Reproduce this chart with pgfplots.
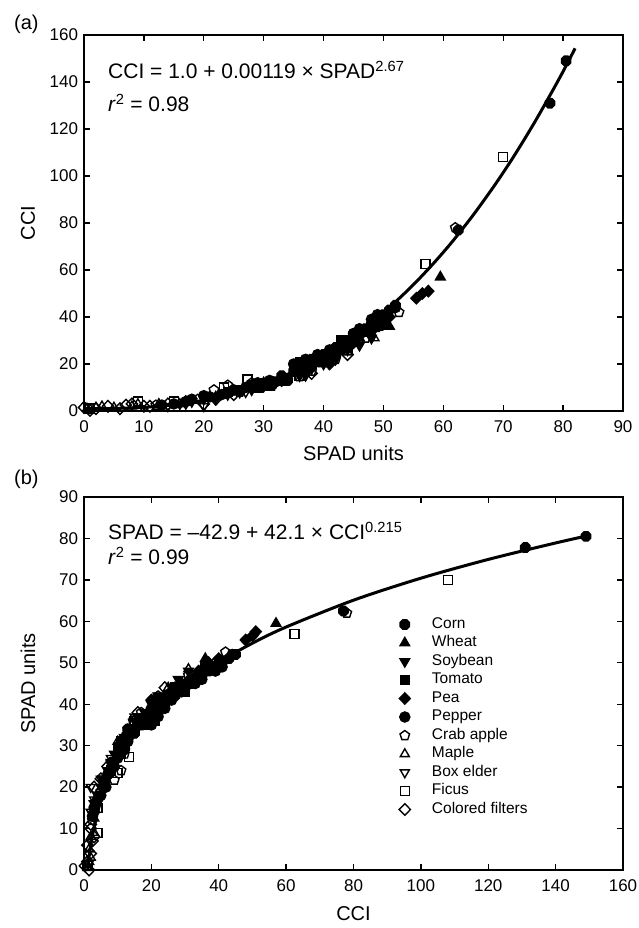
\documentclass[border=0pt]{standalone}
\usepackage{pgfplots}
\pgfplotsset{compat=1.18}
\usepackage{pgfplotstable}
\usepackage{fontspec}
\setmainfont{Liberation Sans}
\usetikzlibrary{plotmarks}

\pgfdeclareplotmark{octagon*}{%
 \pgfpathmoveto{\pgfqpointpolar{22.5}{\pgfplotmarksize}}%
 \pgfpathlineto{\pgfqpointpolar{67.5}{\pgfplotmarksize}}%
 \pgfpathlineto{\pgfqpointpolar{112.5}{\pgfplotmarksize}}%
 \pgfpathlineto{\pgfqpointpolar{157.5}{\pgfplotmarksize}}%
 \pgfpathlineto{\pgfqpointpolar{202.5}{\pgfplotmarksize}}%
 \pgfpathlineto{\pgfqpointpolar{247.5}{\pgfplotmarksize}}%
 \pgfpathlineto{\pgfqpointpolar{292.5}{\pgfplotmarksize}}%
 \pgfpathlineto{\pgfqpointpolar{337.5}{\pgfplotmarksize}}%
 \pgfpathclose\pgfusepathqfillstroke}

% columns: s = SPAD units, c = CCI
\pgfplotstableread{
s c
30 11
32 12.5
33 15
34 13
35 17
36 20
37 19
38 22
39 21
40 24
41 23
42 27
43 26
44 30
45 31
46 33
47 35
48 37
49 40
50 41
51 43
52 45
62.5 77
77.8 131
80.5 149
}\corn
\pgfplotstableread{
s c
22 6
25 8
28 10
30 12
33 14
35 16
36 19
37 18
39 21
41 24
43 28
45 30
46 31
47 33
48.5 35
50 37
51 36
59.5 57
}\wheat
\pgfplotstableread{
s c
16 3
18 4
20 5
22 5.5
24 7
26 8
28 9
30 10.5
32 12
34 13.5
36 15
37 16
38 18
40 20
42 22
44 26
46 28
48 31
}\soybean
\pgfplotstableread{
s c
24 8
26 9
28 11
29 10
30 12
31 11
33 13
35 18
36 21
38 20
39 23
40 22
42 25
43 30
45 32
47 34
49 36
}\tomato
\pgfplotstableread{
s c
36 17
38 19
40 22
41 20
42 26
44 27
45 29
46 32
48 34
50 37
51 40
55.5 48
56.5 50
57.5 51
}\pea
\pgfplotstableread{
s c
13 2.5
15 3
17 4
18 5
20 6.5
21 6
23 7
25 9
27 10
29 12
31 13
33 14
35 20
37 22
39 24
41 26
43 29
45 33
46 35
48 39
49 41
50 40
52 44
}\pepper
\pgfplotstableread{
s c
12 2.5
19 5
21.7 9
24 11
26 8
28 12
34 13
36 14.6
38 17
42 22
47 31
52.6 42
62 78
}\crab
\pgfplotstableread{
s c
0.5 1
2 1.5
3 2
5 1.5
8 2
9 3
12.5 3
16 3
31 10
36 16
40 20
44 25
48.5 31
}\maple
\pgfplotstableread{
s c
14 2
17 3
20 2
22 5
27 8
32 12
37 15
42 22
46 28
}\boxelder
\pgfplotstableread{
s c
1 1
9 4
15 4
23.4 10
27.3 13.4
30 12
36 15
44 27
57 62.5
70 108
}\ficus
\pgfplotstableread{
s c
0 1.5
1 0.3
2 1
4 2
6 1
7 2.5
8 3
10 2
11 2
14 3
17 4
20 3
22 5
25 7
29 11
33 13
38 16
44 24
50 39
}\filters
% fitted curves
\pgfplotstableread{
s c
0 1
5 1.09
10 1.56
15 2.64
20 4.55
25 7.43
30 11.46
35 16.78
40 23.55
45 31.88
50 41.90
52 46.41
54 51.24
56 56.36
58 61.80
60 67.56
62 73.64
65 83.43
68 94.0
70 101.47
72 109.3
75 121.8
78 135.2
80 144.5
82 154.3
}\fita
\pgfplotstableread{
c s
1.1 0.07
1.5 3.03
2 5.97
3 10.42
4 13.82
5 16.60
7 21.07
10 26.17
15 32.46
20 37.27
30 44.57
40 50.16
50 54.73
60 58.63
80 65.10
100 70.41
120 74.94
140 78.91
150 80.74
}\fitb

\pgfplotsset{
 myaxis/.style={
  scale only axis, clip=false,
  axis line style={line width=1.3pt},
  every tick/.style={line width=1.3pt, black},
  major tick length=6pt, tick align=inside,
  minor tick num=0,
  ticklabel style={font=\fontsize{17}{20}\selectfont},
  xticklabel style={yshift=-6pt},
  yticklabel style={xshift=-2.5pt},
  /pgf/number format/assume math mode=true,
  every axis y label/.style={at={(axis description cs:-0.104,0.5)}, rotate=90, anchor=center, font=\fontsize{20}{24}\selectfont},
 },
 mk/.style={only marks, black, mark options={line width=1.1pt}},
 corn/.style={mk, mark=octagon*, mark size=5.2pt},
 wheat/.style={mk, mark=triangle*, mark size=5.8pt},
 soybean/.style={mk, mark=triangle*, mark size=5.8pt, mark options={rotate=180, line width=1.1pt}},
 tomato/.style={mk, mark=square*, mark size=4.5pt},
 pea/.style={mk, mark=diamond*, mark size=5.8pt, mark options={xscale=1.3, line width=1.1pt}},
 pepper/.style={mk, mark=*, mark size=5.2pt},
 crab/.style={mk, mark=pentagon, mark size=5pt, mark options={fill=white, line width=1.4pt}},
 maple/.style={mk, mark=triangle, mark size=5.2pt, mark options={fill=white, line width=1.4pt}},
 boxelder/.style={mk, mark=triangle, mark size=5.2pt, mark options={rotate=180, fill=white, line width=1.4pt}},
 ficus/.style={mk, mark=square, mark size=4.5pt, mark options={fill=white, line width=1.4pt}},
 filters/.style={mk, mark=diamond, mark size=5.8pt, mark options={xscale=1.3, fill=white, line width=1.4pt}},
 fitline/.style={black, line width=3pt, smooth, no markers},
}

\begin{document}
\begin{tikzpicture}[x=1pt,y=1pt]
\useasboundingbox (0,0) rectangle (638,-928);

% ---------- panel (a)
\begin{axis}[myaxis,
  at={(84pt,-35pt)}, anchor=north west,
  width=539pt, height=376pt,
  xmin=0, xmax=90, ymin=0, ymax=160,
  xtick={0,10,...,90}, ytick={0,20,...,160},
  every axis x label/.style={at={(axis description cs:0.5,0)}, anchor=center, yshift=-42pt, font=\fontsize{20}{24}\selectfont},
  xlabel={SPAD units}, ylabel={CCI},
]
\addplot[fitline] table[x=s,y=c]{\fita};
\addplot[filters] table[x=s,y=c]{\filters};
\addplot[ficus] table[x=s,y=c]{\ficus};
\addplot[boxelder] table[x=s,y=c]{\boxelder};
\addplot[maple] table[x=s,y=c]{\maple};
\addplot[crab] table[x=s,y=c]{\crab};
\addplot[soybean] table[x=s,y=c]{\soybean};
\addplot[wheat] table[x=s,y=c]{\wheat};
\addplot[tomato] table[x=s,y=c]{\tomato};
\addplot[pepper] table[x=s,y=c]{\pepper};
\addplot[pea] table[x=s,y=c]{\pea};
\addplot[corn] table[x=s,y=c]{\corn};
\end{axis}

% ---------- panel (b)
\begin{axis}[myaxis,
  at={(84pt,-497pt)}, anchor=north west,
  width=539pt, height=373pt,
  xmin=0, xmax=160, ymin=0, ymax=90,
  xtick={0,20,...,160}, ytick={0,10,...,90},
  every axis x label/.style={at={(axis description cs:0.5,0)}, anchor=center, yshift=-44pt, font=\fontsize{20}{24}\selectfont},
  xlabel={CCI}, ylabel={SPAD units},
  legend cell align=left,
  legend style={at={(axis cs:92.6,62)}, anchor=north west, draw=none, fill=none,
    font=\fontsize{15.5}{18}\selectfont, row sep=0pt,
    nodes={inner sep=1.5pt, text height=11.7pt, text depth=3.8pt},
    /tikz/every odd column/.append style={column sep=20pt}},
  legend image code/.code={\draw[mark repeat=2,mark phase=2,#1] plot coordinates {(0pt,0pt)(10pt,0pt)(20pt,0pt)};},
]
\addplot[fitline, forget plot] table[x=c,y=s]{\fitb};
\addplot[corn] table[x=c,y=s]{\corn};
\addplot[wheat] table[x=c,y=s]{\wheat};
\addplot[soybean] table[x=c,y=s]{\soybean};
\addplot[tomato] table[x=c,y=s]{\tomato};
\addplot[pea] table[x=c,y=s]{\pea};
\addplot[pepper] table[x=c,y=s]{\pepper};
\addplot[crab] table[x=c,y=s]{\crab};
\addplot[maple] table[x=c,y=s]{\maple};
\addplot[boxelder] table[x=c,y=s]{\boxelder};
\addplot[ficus] table[x=c,y=s]{\ficus};
\addplot[filters] table[x=c,y=s]{\filters};
\legend{Corn, Wheat, Soybean, Tomato, Pea, Pepper, Crab apple, Maple, Box elder, Ficus, Colored filters}
\end{axis}

% ---------- texts
\node[anchor=west, inner sep=0pt, font=\fontsize{21}{25}\selectfont] at (108,-70) {CCI = 1.0 + 0.00119 × SPAD\textsuperscript{2.67}};
\node[anchor=west, inner sep=0pt, font=\fontsize{21}{25}\selectfont] at (108,-103) {\textit{r}\textsuperscript{2} = 0.98};
\node[anchor=west, inner sep=0pt, font=\fontsize{21}{25}\selectfont] at (108,-531) {SPAD = –42.9 + 42.1 × CCI\textsuperscript{0.215}};
\node[anchor=west, inner sep=0pt, font=\fontsize{21}{25}\selectfont] at (108,-556) {\textit{r}\textsuperscript{2} = 0.99};
\node[anchor=west, inner sep=0pt, font=\fontsize{20}{24}\selectfont] at (14,-24) {(a)};
\node[anchor=west, inner sep=0pt, font=\fontsize{20}{24}\selectfont] at (14,-479) {(b)};
\end{tikzpicture}
\end{document}
